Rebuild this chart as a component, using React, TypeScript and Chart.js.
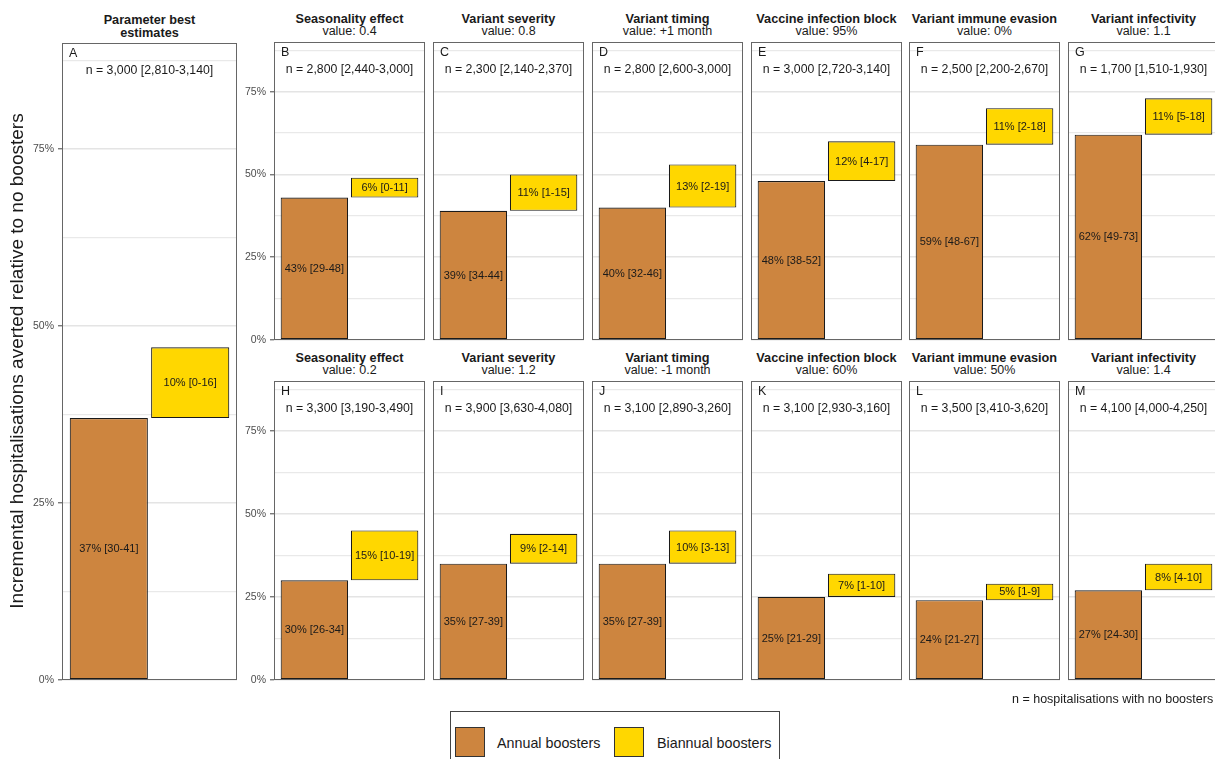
import React, { useEffect, useRef } from "react";
import { Chart, registerables } from "chart.js";

Chart.register(...registerables);

const FONT = "'Liberation Sans', Arial, Helvetica, sans-serif";
const ANNUAL_COLOR = "#CD853F";
const BIANNUAL_COLOR = "#FFD700";

// ---------------- data ----------------
const panelLetters = ["A", "B", "C", "D", "E", "F", "G", "H", "I", "J", "K", "L", "M"];
const panelTitles = [
  "Parameter best|estimates",
  "Seasonality effect",
  "Variant severity",
  "Variant timing",
  "Vaccine infection block",
  "Variant immune evasion",
  "Variant infectivity",
  "Seasonality effect",
  "Variant severity",
  "Variant timing",
  "Vaccine infection block",
  "Variant immune evasion",
  "Variant infectivity",
];
const panelValueTexts = [
  "",
  "value: 0.4",
  "value: 0.8",
  "value: +1 month",
  "value: 95%",
  "value: 0%",
  "value: 1.1",
  "value: 0.2",
  "value: 1.2",
  "value: -1  month",
  "value: 60%",
  "value: 50%",
  "value: 1.4",
];
const nTexts = [
  "n = 3,000 [2,810-3,140]",
  "n = 2,800 [2,440-3,000]",
  "n = 2,300 [2,140-2,370]",
  "n = 2,800 [2,600-3,000]",
  "n = 3,000 [2,720-3,140]",
  "n = 2,500 [2,200-2,670]",
  "n = 1,700 [1,510-1,930]",
  "n = 3,300 [3,190-3,490]",
  "n = 3,900 [3,630-4,080]",
  "n = 3,100 [2,890-3,260]",
  "n = 3,100 [2,930-3,160]",
  "n = 3,500 [3,410-3,620]",
  "n = 4,100 [4,000-4,250]",
];
const annualValues = [37, 43, 39, 40, 48, 59, 62, 30, 35, 35, 25, 24, 27];
const biannualValues = [10, 6, 11, 13, 12, 11, 11, 15, 9, 10, 7, 5, 8];
const annualLabels = [
  "37% [30-41]", "43% [29-48]", "39% [34-44]", "40% [32-46]", "48% [38-52]", "59% [48-67]", "62% [49-73]",
  "30% [26-34]", "35% [27-39]", "35% [27-39]", "25% [21-29]", "24% [21-27]", "27% [24-30]",
];
const biannualLabels = [
  "10% [0-16]", "6% [0-11]", "11% [1-15]", "13% [2-19]", "12% [4-17]", "11% [2-18]", "11% [5-18]",
  "15% [10-19]", "9% [2-14]", "10% [3-13]", "7% [1-10]", "5% [1-9]", "8% [4-10]",
];
const seriesNames = ["Annual boosters", "Biannual boosters"];
const Y_MIN = 0;
const Y_MAX = 90;
const Y_MAJOR_STEP = 25;
const Y_MINOR_STEP = 12.5;
const yAxisTitle = "Incremental hospitalisations averted relative to no boosters";
const footnote = "n = hospitalisations with no boosters";

// ---------------- layout ----------------
type Geo = { x: number; y: number; w: number; h: number; axis: boolean };
function panelGeo(i: number): Geo {
  if (i === 0) return { x: 62, y: 43, w: 175, h: 637, axis: true };
  const col = (i - 1) % 6;
  const row = Math.floor((i - 1) / 6);
  const lefts = [274, 433, 592, 751, 909, 1068];
  return {
    x: lefts[col],
    y: row === 0 ? 42 : 381,
    w: 151,
    h: row === 0 ? 298 : 299,
    axis: col === 0,
  };
}
const PAD_V = 16;

const panelPlugin = {
  id: "panelDecor",
  afterDatasetsDraw(chart: any, _args: any, opts: any) {
    const { ctx, chartArea } = chart;
    ctx.save();
    const meta = chart.getDatasetMeta(0);
    ctx.fillStyle = "#1a1a1a";
    ctx.textAlign = "center";
    ctx.textBaseline = "middle";
    ctx.font = `11px ${FONT}`;
    meta.data.forEach((el: any, i: number) => {
      const p = el.getProps(["x", "y", "base"], true);
      ctx.fillText(opts.labels[i], p.x, (p.y + p.base) / 2 + 0.5);
    });
    ctx.textAlign = "left";
    ctx.font = `12.5px ${FONT}`;
    ctx.fillText(opts.letter, chartArea.left + 7, chartArea.top + 10.5);
    ctx.textAlign = "center";
    ctx.font = `12.3px ${FONT}`;
    ctx.fillText(opts.n, (chartArea.left + chartArea.right) / 2, chartArea.top + 27.5);
    ctx.strokeStyle = "#666666";
    ctx.lineWidth = 1;
    ctx.strokeRect(
      chartArea.left + 0.5,
      chartArea.top + 0.5,
      chartArea.right - chartArea.left - 1,
      chartArea.bottom - chartArea.top - 1
    );
    ctx.restore();
  },
};

function Panel({ index }: { index: number }) {
  const ref = useRef<HTMLCanvasElement>(null);
  const g = panelGeo(index);
  const axisW = g.axis ? 40 : 0;
  const cw = axisW + g.w + 3;
  const ch = g.h + PAD_V * 2;

  useEffect(() => {
    const a = annualValues[index];
    const b = biannualValues[index];
    const isMajor = (v: number) => Math.abs(v % Y_MAJOR_STEP) < 1e-6;
    const chart = new Chart(ref.current as HTMLCanvasElement, {
      type: "bar",
      data: {
        datasets: [
          {
            label: seriesNames.join(" / "),
            data: [
              { x: 1, y: [0, a] },
              { x: 2, y: [a, a + b] },
            ] as any,
            backgroundColor: [ANNUAL_COLOR, BIANNUAL_COLOR],
            borderColor: "#1a1a1a",
            borderWidth: 1.1,
            borderSkipped: false,
            categoryPercentage: 1,
            barPercentage: 0.96,
          } as any,
        ],
      },
      options: {
        animation: false,
        responsive: false,
        maintainAspectRatio: false,
        events: [],
        layout: { padding: { left: 1, right: 2, top: PAD_V, bottom: PAD_V } },
        plugins: {
          legend: { display: false },
          tooltip: { enabled: false },
          panelDecor: {
            letter: panelLetters[index],
            n: nTexts[index],
            labels: [annualLabels[index], biannualLabels[index]],
          },
        } as any,
        scales: {
          x: {
            type: "linear",
            min: 0.425,
            max: 2.575,
            offset: false,
            display: false,
            ticks: { stepSize: 1, includeBounds: false },
          },
          y: {
            min: Y_MIN,
            max: Y_MAX,
            border: { display: false },
            ticks: {
              stepSize: Y_MINOR_STEP,
              includeBounds: false,
              autoSkip: false,
              display: g.axis,
              padding: 4,
              color: "#4d4d4d",
              font: { family: FONT, size: 10.5 },
              callback: (v: any) => (isMajor(Number(v)) ? `${v}%` : ""),
            },
            grid: {
              color: (c: any) => (isMajor(c.tick.value) ? "#e4e4e4" : "#e9e9e9"),
              lineWidth: (c: any) => (isMajor(c.tick.value) ? 1.6 : 1.3),
              drawTicks: g.axis,
              tickLength: 4,
              tickWidth: 1,
              tickColor: (c: any) => (isMajor(c.tick.value) ? "#444444" : "rgba(0,0,0,0)"),
            },
            afterFit: (s: any) => {
              s.width = axisW;
            },
          },
        } as any,
      },
      plugins: [panelPlugin as any],
    });
    return () => chart.destroy();
  }, [index]);

  return (
    <canvas
      ref={ref}
      width={cw}
      height={ch}
      style={{ position: "absolute", left: g.x - axisW - 1, top: g.y - PAD_V, width: cw, height: ch }}
    />
  );
}

function PanelTitle({ index }: { index: number }) {
  const g = panelGeo(index);
  const cx = g.x + g.w / 2;
  const base: React.CSSProperties = {
    position: "absolute",
    left: cx - 120,
    width: 240,
    textAlign: "center",
    whiteSpace: "nowrap",
    color: "#1a1a1a",
    height: 14,
    lineHeight: "14px",
  };
  if (index === 0) {
    const lines = panelTitles[0].split("|");
    return (
      <>
        <div style={{ ...base, top: 19.5 - 7, fontWeight: "bold", fontSize: 12.7 }}>{lines[0]}</div>
        <div style={{ ...base, top: 33 - 7, fontWeight: "bold", fontSize: 12.7 }}>{lines[1]}</div>
      </>
    );
  }
  return (
    <>
      <div style={{ ...base, top: g.y - 23.5 - 7, fontWeight: "bold", fontSize: 12.7 }}>{panelTitles[index]}</div>
      <div style={{ ...base, top: g.y - 11.5 - 7, fontSize: 12.5 }}>{panelValueTexts[index]}</div>
    </>
  );
}

export default function App() {
  const idx = panelLetters.map((_, i) => i);
  return (
    <div
      style={{
        position: "fixed",
        left: 0,
        top: 0,
        width: 1215,
        height: 759,
        overflow: "hidden",
        background: "#ffffff",
        fontFamily: FONT,
      }}
    >
      {idx.map((i) => (
        <PanelTitle key={"t" + i} index={i} />
      ))}
      {idx.map((i) => (
        <Panel key={"p" + i} index={i} />
      ))}
      <div
        style={{
          position: "absolute",
          left: 17 - 320,
          top: 361 - 12,
          width: 640,
          height: 24,
          lineHeight: "24px",
          textAlign: "center",
          fontSize: 19,
          color: "#1a1a1a",
          transform: "rotate(-90deg)",
          whiteSpace: "nowrap",
        }}
      >
        {yAxisTitle}
      </div>
      <div
        style={{
          position: "absolute",
          left: 1012,
          top: 699 - 7,
          height: 14,
          lineHeight: "14px",
          fontSize: 12.5,
          whiteSpace: "nowrap",
          color: "#1a1a1a",
        }}
      >
        {footnote}
      </div>
      <div
        style={{
          position: "absolute",
          left: 450,
          top: 711,
          width: 330,
          height: 70,
          border: "1px solid #444",
          boxSizing: "border-box",
        }}
      >
        <div
          style={{
            position: "absolute",
            left: 4,
            top: 15,
            width: 30,
            height: 30,
            background: ANNUAL_COLOR,
            border: "1px solid #333",
            boxSizing: "border-box",
          }}
        />
        <div style={{ position: "absolute", left: 46, top: 22, lineHeight: "18px", fontSize: 14.3, color: "#1a1a1a", whiteSpace: "nowrap" }}>
          {seriesNames[0]}
        </div>
        <div
          style={{
            position: "absolute",
            left: 163,
            top: 15,
            width: 30,
            height: 30,
            background: BIANNUAL_COLOR,
            border: "1px solid #333",
            boxSizing: "border-box",
          }}
        />
        <div style={{ position: "absolute", left: 206, top: 22, lineHeight: "18px", fontSize: 14.3, color: "#1a1a1a", whiteSpace: "nowrap" }}>
          {seriesNames[1]}
        </div>
      </div>
    </div>
  );
}
